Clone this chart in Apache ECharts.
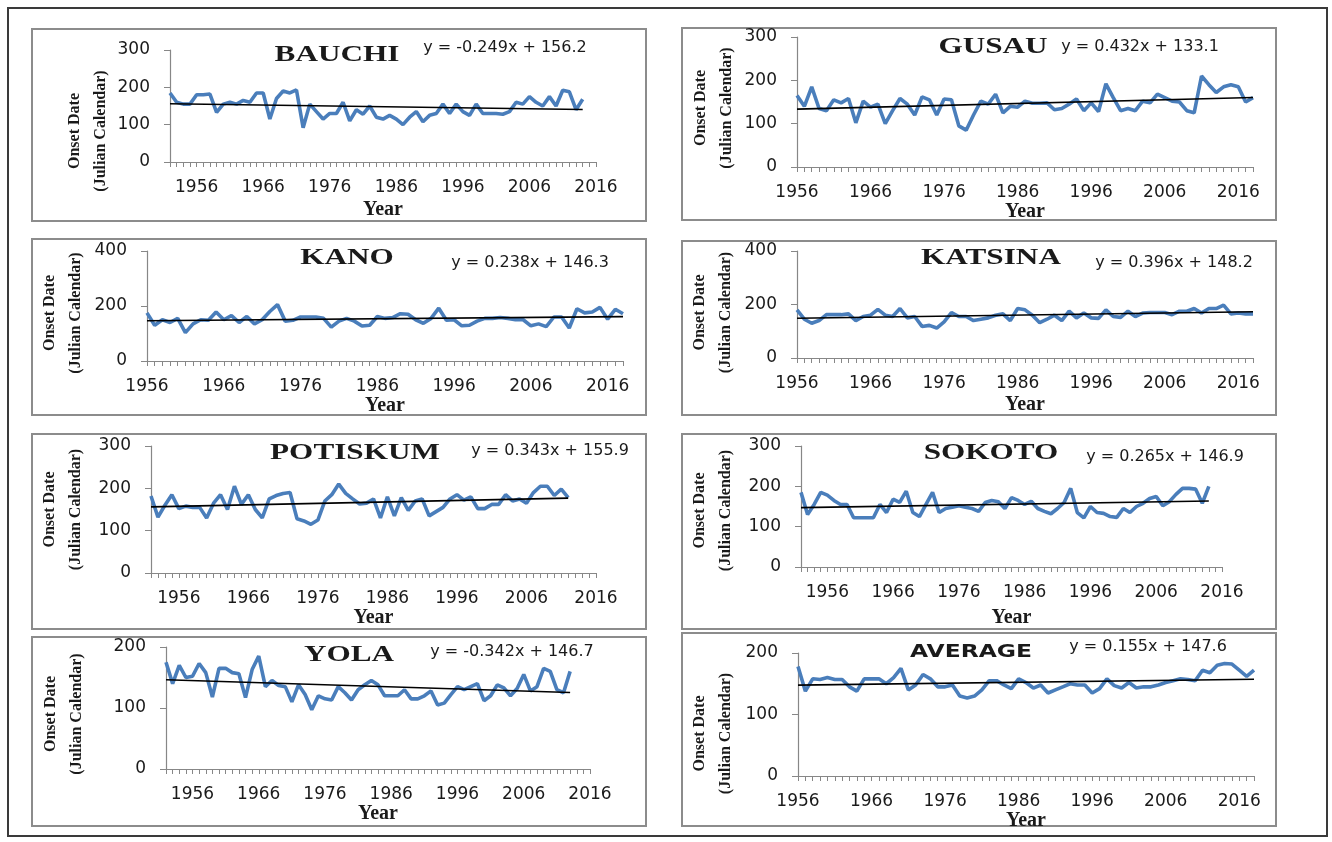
<!DOCTYPE html>
<html>
<head>
<meta charset="utf-8">
<script src="https://cdn.jsdelivr.net/npm/echarts@6/dist/echarts.min.js"></script>
<style>
html,body{margin:0;padding:0;background:#fff;}
#c{width:1332px;height:842px;}
</style>
</head>
<body>
<div id="c"></div>
<script>
// ---------------- DATA ----------------
const stationNames = ['BAUCHI','GUSAU','KANO','KATSINA','POTISKUM','SOKOTO','YOLA','AVERAGE'];
const startYears   = [1952, 1956, 1956, 1956, 1952, 1952, 1952, 1956];
const trendSlopes  = [-0.249, 0.432, 0.238, 0.396, 0.343, 0.265, -0.342, 0.155];
const trendIntercepts = [156.2, 133.1, 146.3, 148.2, 155.9, 146.9, 146.7, 147.6];
const yAxisMax  = [300, 300, 400, 400, 300, 300, 200, 200];
const yAxisStep = [100, 100, 200, 200, 100, 100, 100, 100];
const xTickLabelYears = [1956, 1966, 1976, 1986, 1996, 2006, 2016];

const onsetBauchi = [185,160,155,155,180,180,182,133,155,160,155,165,160,185,185,115,170,190,185,193,92,155,135,115,130,130,160,110,140,128,150,120,115,125,115,100,120,135,108,125,130,155,130,155,135,125,155,130,130,130,128,135,160,155,175,160,150,175,150,192,188,140,168];
const onsetGusau  = [165,140,185,135,130,155,148,158,102,152,138,145,100,130,158,145,120,162,155,120,157,155,95,85,120,152,145,168,125,140,138,152,147,147,148,132,135,145,157,130,148,128,192,160,130,135,130,152,148,168,160,152,150,130,125,210,190,172,185,190,185,150,160];
const onsetKano   = [175,130,150,140,155,103,135,150,148,178,150,165,140,162,135,150,180,205,145,148,160,160,160,155,123,145,155,145,127,130,162,155,158,172,170,150,137,155,192,148,150,128,130,145,155,155,158,155,150,150,128,135,125,160,160,120,190,175,178,195,152,188,172];
const onsetKatsina= [180,145,130,140,162,162,162,165,140,155,160,182,160,155,185,150,155,118,122,112,135,170,155,155,140,145,150,160,165,140,185,180,160,132,145,160,140,175,150,168,150,148,180,155,152,175,155,168,170,170,170,162,175,175,185,168,185,185,198,165,168,165,165];
const onsetPotiskum=[182,132,160,185,152,158,155,155,130,165,185,150,205,162,185,150,130,175,183,188,190,128,123,115,125,170,185,210,188,175,163,165,175,130,180,135,178,148,170,175,135,145,155,175,185,172,180,152,152,162,162,185,170,175,165,190,205,205,183,198,178];
const onsetSokoto = [185,130,155,185,178,165,155,155,122,122,122,122,155,135,168,160,188,135,125,155,185,135,145,148,152,148,145,138,160,165,162,145,172,165,155,163,145,138,132,145,160,195,135,122,150,135,133,125,123,145,135,150,158,170,175,152,162,180,195,195,193,158,200];
const onsetYola   = [175,140,170,150,152,173,158,118,165,165,158,156,117,163,185,135,145,137,135,110,138,122,97,120,115,113,135,125,113,130,138,145,138,120,120,120,130,115,115,120,128,105,108,122,135,130,135,140,112,120,138,133,120,132,155,128,135,165,160,130,125,160];
const onsetAverage= [178,138,158,157,160,157,157,145,138,158,158,158,150,160,175,140,148,165,158,145,145,148,130,127,130,140,155,155,148,142,158,152,143,148,135,140,145,150,148,148,135,142,158,147,143,152,143,145,145,148,152,155,158,157,155,172,168,180,183,182,172,162,172];

const onsetSeries = [onsetBauchi, onsetGusau, onsetKano, onsetKatsina, onsetPotiskum, onsetSokoto, onsetYola, onsetAverage];

// ---------------- LAYOUT (pixels) ----------------
const panels = [
  {box:[32,29,646,221],  grid:[170,50,596,162],   xMax:2016, title:[337,55],  eq:[505,48],  yGap:56, yPad:50, xGap:38},
  {box:[682,28,1276,220],grid:[797,37,1253,167],  xMax:2018, title:[993,47],  eq:[1140,47], yGap:57, yPad:12, xGap:31},
  {box:[32,239,646,415], grid:[147,251,623,361],  xMax:2018, title:[347,258], eq:[530,263], yGap:58, yPad:14, xGap:34},
  {box:[682,241,1276,415],grid:[797,251,1253,358],xMax:2018, title:[991,258], eq:[1174,263],yGap:58, yPad:16, xGap:37},
  {box:[32,434,646,629], grid:[151,446,596,573],  xMax:2016, title:[355,453], eq:[550,451], yGap:62, yPad:0,  xGap:32},
  {box:[682,434,1276,629],grid:[801,446,1222,567],xMax:2016, title:[991,453], eq:[1165,457],yGap:62, yPad:8,  xGap:41},
  {box:[32,637,646,826], grid:[166,647,590,769],  xMax:2016, title:[349,655], eq:[512,652], yGap:76, yPad:12, xGap:34},
  {box:[682,633,1276,826],grid:[798,653,1254,776],xMax:2018, title:[971,652], eq:[1148,647],yGap:59, yPad:38, xGap:27}
];

const BLUE = '#4A7EBB';
const AXIS = '#878787';
const TXT = '#1a1a1a';

function eqText(i){
  const a = trendSlopes[i], b = trendIntercepts[i];
  return 'y = ' + a.toFixed(3) + 'x + ' + b.toFixed(1);
}

const grids = [], xAxes = [], yAxes = [], series = [], graphics = [];

graphics.push({type:'rect', shape:{x:8,y:8,width:1319,height:828}, style:{fill:null, stroke:'#3a3a3a', lineWidth:2}, silent:true});

panels.forEach((p, i) => {
  const vals = onsetSeries[i];
  const years = vals.map((v, k) => startYears[i] + k);
  const [gl, gt, gr, gb] = p.grid;
  grids.push({left:gl, top:gt, width:gr-gl, height:gb-gt, outerBoundsMode:'none', containLabel:false});
  const allYears = [];
  for (let y = startYears[i]; y <= p.xMax; y++) allYears.push(y);
  xAxes.push({
    type:'value', gridIndex:i, min:startYears[i], max:p.xMax,
    splitLine:{show:false},
    axisLine:{show:true, onZero:false, lineStyle:{color:AXIS, width:1.2}},
    axisTick:{show:true, length:5, customValues: allYears, lineStyle:{color:AXIS}},
    axisLabel:{customValues: xTickLabelYears.filter(y => y >= startYears[i] && y <= p.xMax),
      formatter: v => String(v),
      margin:17, color:TXT, fontFamily:'DejaVu Sans', fontSize:17},
    name:'Year', nameLocation:'middle', nameGap:p.xGap,
    nameTextStyle:{fontFamily:'Liberation Serif', fontWeight:'bold', fontSize:20, color:TXT}
  });
  yAxes.push({
    type:'value', gridIndex:i, min:0, max:yAxisMax[i], interval:yAxisStep[i],
    splitLine:{show:false},
    axisLine:{show:true, lineStyle:{color:AXIS, width:1.2}},
    axisTick:{show:true, length:6, lineStyle:{color:AXIS}},
    axisLabel:{margin:20, color:TXT, fontFamily:'DejaVu Sans', fontSize:17},
    name:'Onset Date\n(Julian Calendar)', nameLocation:'middle', nameGap:p.yGap,
    nameTextStyle:{fontFamily:'Liberation Serif', fontWeight:'bold', fontSize:16, lineHeight:26,
      color:TXT, align:'center', padding:[0, p.yPad, 0, 0]}
  });
  series.push({
    type:'line', xAxisIndex:i, yAxisIndex:i, data: years.map((y,k)=>[y, vals[k]]),
    showSymbol:false, symbol:'none', lineStyle:{color:BLUE, width:3.6}, z:2, silent:true
  });
  const n = vals.length;
  series.push({
    type:'line', xAxisIndex:i, yAxisIndex:i,
    data:[[years[0], trendSlopes[i]*1 + trendIntercepts[i]], [years[n-1], trendSlopes[i]*n + trendIntercepts[i]]],
    showSymbol:false, symbol:'none', lineStyle:{color:'#000', width:1.6}, z:3, silent:true
  });
  const [bx0, by0, bx1, by1] = p.box;
  graphics.push({type:'rect', shape:{x:bx0, y:by0, width:bx1-bx0, height:by1-by0},
    style:{fill:null, stroke:'#8c8c8c', lineWidth:2}, silent:true});
  const isAvg = stationNames[i] === 'AVERAGE';
  graphics.push({type:'text', x:p.title[0], y:p.title[1], scaleX:1.3, silent:true,
    style:{text:stationNames[i], align:'center', verticalAlign:'middle', fill:TXT,
      font: isAvg ? 'bold 18px "DejaVu Sans"' : 'bold 24px "Liberation Serif"'}});
  graphics.push({type:'text', x:p.eq[0], y:p.eq[1], silent:true,
    style:{text:eqText(i), align:'center', verticalAlign:'middle', fill:TXT, font:'16px "DejaVu Sans"'}});
});

const chart = echarts.init(document.getElementById('c'), null, {renderer:'canvas'});
chart.setOption({
  animation:false,
  backgroundColor:'#fff',
  grid:grids, xAxis:xAxes, yAxis:yAxes, series:series,
  graphic:{elements:graphics}
});
</script>
</body>
</html>
